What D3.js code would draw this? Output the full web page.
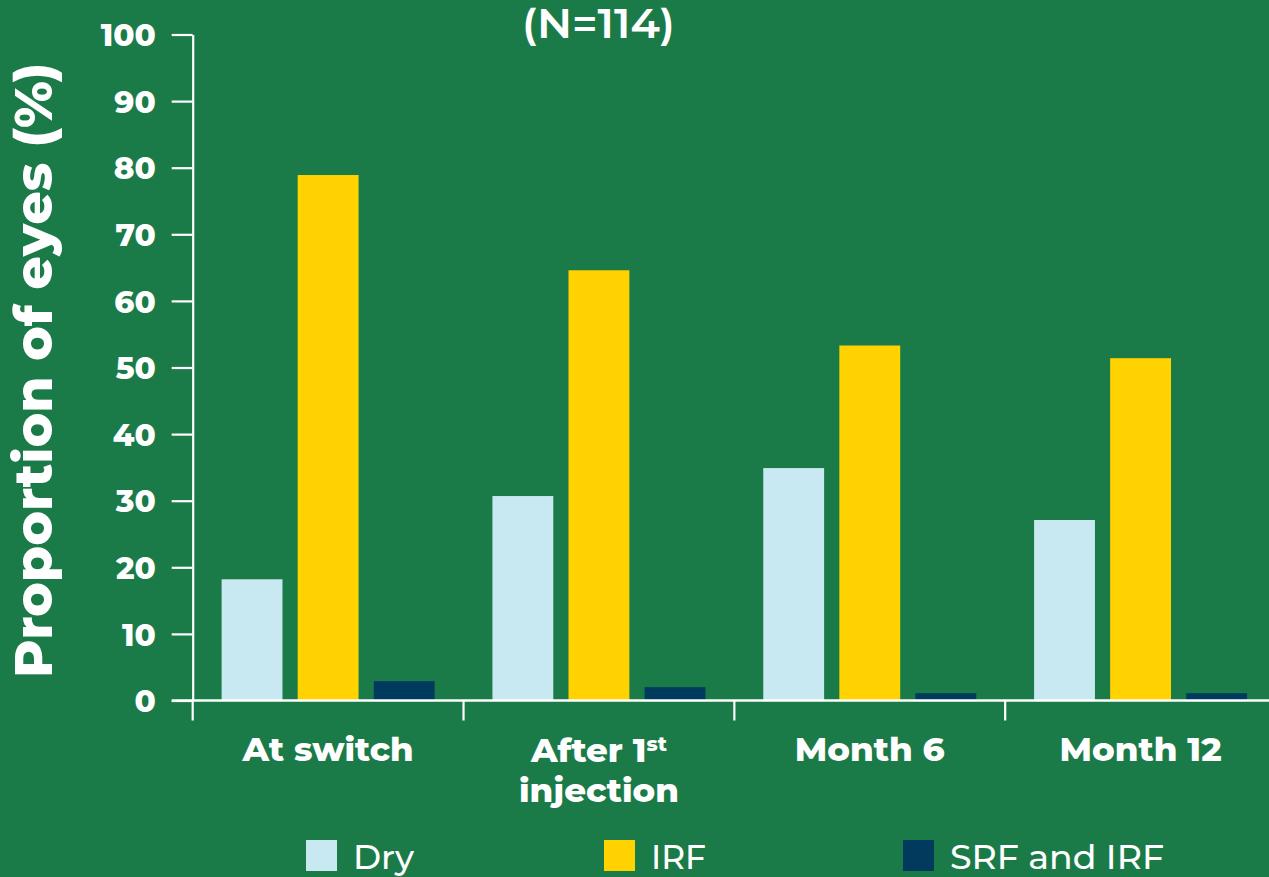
<!DOCTYPE html>
<html>
<head>
<meta charset="utf-8">
<script src="https://cdn.jsdelivr.net/npm/d3@7"></script>
<style>
  html, body { margin: 0; padding: 0; background: #1b7b48; }
  svg { display: block; }
  text { font-family: "Montserrat", "Open Sans", "Lato", sans-serif; fill: #ffffff; }
</style>
</head>
<body>
<svg id="chart" width="1269" height="877"></svg>
<script>
// Proportion of eyes by fluid status at each visit
const categories = ["At switch", "After 1st injection", "Month 6", "Month 12"];
const series = ["Dry", "IRF", "SRF and IRF"];
const dryValues = [18.2, 30.7, 34.9, 27.1];
const irfValues = [78.9, 64.6, 53.3, 51.4];
const srfIrfValues = [2.9, 2.0, 1.1, 1.1];
const yTicks = [0, 10, 20, 30, 40, 50, 60, 70, 80, 90, 100];
const title = "(N=114)";
const yTitle = "Proportion of eyes (%)";

const colors = { "Dry": "#c8e9f2", "IRF": "#ffd200", "SRF and IRF": "#003a5c" };
const valuesBySeries = { "Dry": dryValues, "IRF": irfValues, "SRF and IRF": srfIrfValues };

const W = 1269, H = 877;
const svg = d3.select("#chart");
svg.append("rect").attr("width", W).attr("height", H).attr("fill", "#1b7b48");

const y = d3.scaleLinear().domain([0, 100]).range([700.5, 34.5]);
const x0 = d3.scaleBand().domain(categories).range([192.7, 1276]);
const x1 = d3.scaleBand().domain(series).range([0, x0.bandwidth()])
  .paddingInner(0.2).paddingOuter(0.38);

// Bars
const groups = svg.append("g").selectAll("g")
  .data(categories).join("g")
  .attr("transform", d => `translate(${x0(d)},0)`);

groups.selectAll("rect")
  .data((c, i) => series.map(s => ({ s, v: valuesBySeries[s][i] })))
  .join("rect")
  .attr("x", d => x1(d.s))
  .attr("width", x1.bandwidth())
  .attr("y", d => y(d.v))
  .attr("height", d => y(0) - y(d.v))
  .attr("fill", d => colors[d.s]);

// Y axis
const tickLen = 21;
const yAxis = d3.axisLeft(y).tickValues(yTicks).tickSize(tickLen).tickSizeOuter(0).tickPadding(16);
const gy = svg.append("g").attr("transform", `translate(${x0.range()[0]},0)`).call(yAxis);
gy.select(".domain").attr("stroke", "#fff").attr("stroke-width", 2.2);
gy.selectAll(".tick line").attr("stroke", "#fff").attr("stroke-width", 2.2);
gy.selectAll(".tick text")
  .attr("fill", "#fff")
  .attr("font-size", 31)
  .attr("font-weight", 800)
  .attr("dy", "0.36em")
  .style("font-family", '"Montserrat", "Open Sans", sans-serif');

// X baseline and category boundary ticks
const baseY = y(0);
svg.append("line")
  .attr("x1", x0.range()[0] - tickLen).attr("x2", W)
  .attr("y1", baseY).attr("y2", baseY)
  .attr("stroke", "#fff").attr("stroke-width", 2.4);

svg.append("g").selectAll("line")
  .data(categories).join("line")
  .attr("x1", d => x0(d)).attr("x2", d => x0(d))
  .attr("y1", baseY).attr("y2", baseY + 20)
  .attr("stroke", "#fff").attr("stroke-width", 2.2);

// Category labels
const labelFont = 33;
const cx = d => x0(d) + x0.bandwidth() / 2;
const lbl = svg.append("g").attr("font-size", labelFont).attr("font-weight", 800).attr("text-anchor", "middle");

lbl.append("text").attr("x", cx(categories[0])).attr("y", 761)
  .attr("textLength", 171).attr("lengthAdjust", "spacingAndGlyphs").text("At switch");

const after = lbl.append("text").attr("x", cx(categories[1])).attr("y", 762)
  .attr("textLength", 136).attr("lengthAdjust", "spacingAndGlyphs");
after.append("tspan").text("After 1");
after.append("tspan").attr("font-size", 20).attr("dy", -11).text("st");
lbl.append("text").attr("x", cx(categories[1])).attr("y", 802)
  .attr("textLength", 160).attr("lengthAdjust", "spacingAndGlyphs").text("injection");

lbl.append("text").attr("x", cx(categories[2])).attr("y", 761)
  .attr("textLength", 150).attr("lengthAdjust", "spacingAndGlyphs").text("Month 6");
lbl.append("text").attr("x", cx(categories[3])).attr("y", 761)
  .attr("textLength", 162).attr("lengthAdjust", "spacingAndGlyphs").text("Month 12");

// Y axis title
svg.append("text")
  .attr("transform", "translate(51.5,370.5) rotate(-90)")
  .attr("text-anchor", "middle")
  .attr("font-size", 52)
  .attr("font-weight", 800)
  .attr("textLength", 615).attr("lengthAdjust", "spacingAndGlyphs")
  .text(yTitle);

// Title
svg.append("text")
  .attr("x", 598.4).attr("y", 37.5)
  .attr("text-anchor", "middle")
  .attr("font-size", 41)
  .attr("font-weight", 600)
  .attr("textLength", 153).attr("lengthAdjust", "spacingAndGlyphs")
  .text(title);

// Legend
const legendX = [306, 604, 903];
const legendTextLen = [61, 55, 214];
const lg = svg.append("g").selectAll("g").data(series).join("g")
  .attr("transform", (d, i) => `translate(${legendX[i]},840)`);
lg.append("rect").attr("width", 31).attr("height", 31).attr("fill", d => colors[d]);
lg.append("text")
  .attr("x", 47).attr("y", 28.5)
  .attr("font-size", 34)
  .attr("font-weight", 500)
  .attr("textLength", (d, i) => legendTextLen[i]).attr("lengthAdjust", "spacingAndGlyphs")
  .text(d => d);
</script>
</body>
</html>
